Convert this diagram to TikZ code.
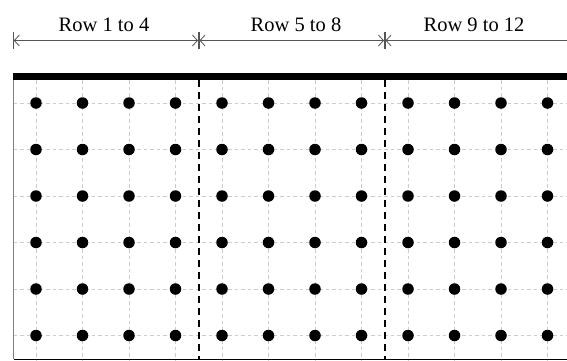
\documentclass[tikz,border=0pt]{standalone}
\usepackage{fontspec}
\setmainfont{Liberation Serif}
\usetikzlibrary{arrows.meta}
\definecolor{dimgray}{HTML}{555555}
\definecolor{gridgray}{HTML}{CCCCCC}
\tikzset{
  dotnode/.style={circle,fill=black,inner sep=0pt,minimum size=11.5pt},
  gridline/.style={gridgray,line width=0.8pt,dash pattern=on 3.5pt off 3pt},
  sepline/.style={black,line width=1.8pt,dash pattern=on 7pt off 5pt},
  dimline/.style={dimgray,line width=0.8pt,
    {Bar[width=17pt]Straight Barb[length=5pt,width=11pt]}-{Straight Barb[length=5pt,width=11pt]Bar[width=17pt]}},
  lbl/.style={font=\fontsize{20.5pt}{24pt}\selectfont,anchor=base,inner sep=0pt}
}
\begin{document}
\begin{tikzpicture}[x=1pt,y=-1pt]
\clip (0,0) rectangle (567,360);
\fill[white] (0,0) rectangle (567,360);
% grid lines
\foreach \j in {0,...,5}{
  \draw[gridline] (13.5,{103+46.5*\j}) -- (570,{103+46.5*\j});
}
\foreach \i in {0,...,11}{
  \draw[gridline] ({36+46.5*\i},80) -- ({36+46.5*\i},360);
}
% borders
\draw[gray,line width=1.2pt] (13.5,76) -- (13.5,359);
\draw[black,line width=1pt] (13.5,359) -- (570,359);
\fill[black] (13,73) rectangle (570,80);
% separators
\draw[sepline] (198.75,80) -- (198.75,360);
\draw[sepline] (384.75,80) -- (384.75,360);
% dots
\foreach \i in {0,...,11}{
  \foreach \j in {0,...,5}{
    \node[dotnode] (p\i-\j) at ({36+46.5*\i},{103+46.5*\j}) {};
  }
}
% dimension line
\coordinate (d0) at (13,40.5);
\coordinate (d1) at (198.75,40.5);
\coordinate (d2) at (384.75,40.5);
\coordinate (d3) at (575,40.5);
\draw[dimline] (d0) -- (d1);
\draw[dimline] (d1) -- (d2);
\draw[dimline] (d2) -- (d3);
\node[lbl] (l1) at (104,31) {Row 1 to 4};
\node[lbl] (l2) at (296,31) {Row 5 to 8};
\node[lbl] (l3) at (474,31) {Row 9 to 12};
\end{tikzpicture}
\end{document}
